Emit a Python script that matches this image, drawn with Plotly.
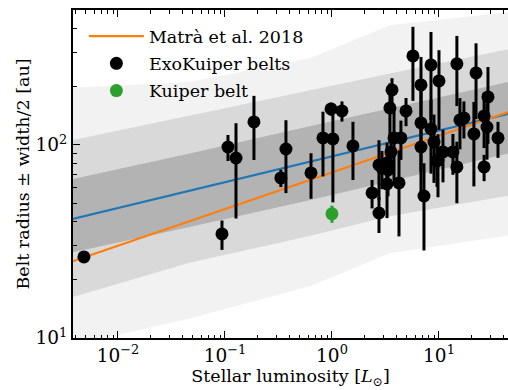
import plotly.graph_objects as go

# ---------------- data ----------------
exo_L = [0.00481, 0.0938, 0.1067, 0.1268, 0.1866, 0.333, 0.3715, 0.637, 0.824, 0.98,
         1.02, 1.24, 1.571, 2.37, 2.75, 2.75, 3.27, 3.34, 2.93, 3.27,
         4.23, 3.64, 3.48, 4.92, 3.80, 4.41, 3.56, 5.71, 8.42, 10.0,
         6.79, 6.79, 8.42, 6.79, 8.98, 9.58, 7.24, 14.7, 22.2, 28.7,
         15.7, 17.1, 26.4, 28.1, 21.2, 35.6, 26.4, 14.7, 13.5, 10.9,
         9.79]
exo_R = [26.3, 34.6, 97.6, 85.6, 131.6, 67.5, 95.3, 71.6, 108.7, 153.7,
         107.4, 150.1, 98.8, 56.4, 44.4, 78.8, 80.7, 74.2, 76.0, 62.8,
         63.6, 192.7, 155.5, 150.1, 108.7, 108.7, 92.0, 289.1, 259.8, 214.6,
         204.6, 130.0, 121.0, 97.6, 103.6, 82.6, 54.4, 263.0, 236.0, 177.3,
         134.8, 138.0, 141.3, 123.9, 114.0, 108.7, 76.9, 76.9, 92.0, 92.0,
         83.6]
exo_err = [1, 6, 15, 44, 48, 7, 39, 19, 40, 12,
           57, 18, 33, 9.5, 9.4, 27, 22, 20, 17, 21,
           30, 29, 53, 25, 43, 25, 20, 120, 125, 95,
           81, 74, 50, 25, 40, 22, 26, 104, 100, 76,
           40, 30, 45, 40, 53, 23, 12, 27, 22, 28,
           30]

kb_L = [1.0]
kb_R = [44.0]
kb_err = [4.5]

# fitted lines (end points)
line_L = [0.0035, 48.0]
matra_R = [24.6, 150.2]
fit_R = [40.9, 146.6]

# shaded percentile bands (edges at a few luminosities)
band_L = [0.0035, 0.0468, 0.631, 3.47, 48.0]
light_top = [197.2, 211.8, 281.8, 416.9, 489.8]
light_bot = [9.12, 12.6, 18.6, 27.5, 34.2]
mid_top = [105.0, 141.3, 191.9, 234.4, 316.2]
mid_bot = [16.1, 24.5, 33.9, 42.7, 55.0]
dark_top = [65.9, 90.4, 125.3, 155.2, 213.8]
dark_bot = [27.5, 37.6, 51.9, 64.6, 91.2]

x_major = [0.01, 0.1, 1, 10]
x_major_text = ["10<sup>−2</sup>", "10<sup>−1</sup>", "10<sup>0</sup>", "10<sup>1</sup>"]
y_major = [10, 100]
y_major_text = ["10<sup>1</sup>", "10<sup>2</sup>"]

FONT = "DejaVu Serif"
FS = 17.5
TFS = 18.5

fig = go.Figure()


def band(top, bot, color):
    fig.add_trace(go.Scatter(
        x=band_L + band_L[::-1], y=top + bot[::-1], fill="toself",
        fillcolor=color, line=dict(width=0), mode="lines",
        hoverinfo="skip", showlegend=False))


band(light_top, light_bot, "#f2f2f2")
band(mid_top, mid_bot, "#d9d9d9")
band(dark_top, dark_bot, "#b3b3b3")

fig.add_trace(go.Scatter(x=line_L, y=fit_R, mode="lines",
                         line=dict(color="#1f77b4", width=2.2), showlegend=False))
fig.add_trace(go.Scatter(x=line_L, y=matra_R, mode="lines", name="Matrà et al. 2018",
                         legendgroup="a", line=dict(color="#ff7f0e", width=2.2)))
fig.add_trace(go.Scatter(x=exo_L, y=exo_R, mode="markers", name="ExoKuiper belts",
                         legendgroup="b", marker=dict(color="black", size=13),
                         error_y=dict(type="data", array=exo_err, color="black",
                                      thickness=3, width=0)))
fig.add_trace(go.Scatter(x=kb_L, y=kb_R, mode="markers", name="Kuiper belt",
                         legendgroup="c", marker=dict(color="#2ca02c", size=13),
                         error_y=dict(type="data", array=kb_err, color="#2ca02c",
                                      thickness=3, width=0)))


def minor_vals(d0, d1):
    out = []
    for e in range(d0, d1):
        for m in range(2, 10):
            out.append(m * 10 ** e)
    return out


fig.update_xaxes(type="log", range=[-2.42, 1.645], showgrid=False, zeroline=False,
                 showline=True, linecolor="black", linewidth=2, mirror="allticks",
                 ticks="inside", ticklen=7, tickwidth=1.2, tickcolor="black",
                 tickmode="array", tickvals=x_major, ticktext=x_major_text,
                 minor=dict(tickmode="array", tickvals=minor_vals(-3, 2), ticks="inside",
                            ticklen=3.5, tickwidth=1, tickcolor="black", showgrid=False),
                 tickfont=dict(family=FONT, size=TFS, color="black"),
                 title=dict(text="Stellar luminosity [<i>L</i><sub>⊙</sub>]",
                            font=dict(family=FONT, size=FS, color="black"), standoff=1))
fig.update_yaxes(type="log", range=[1, 2.699], showgrid=False, zeroline=False,
                 showline=True, linecolor="black", linewidth=2, mirror=False,
                 ticks="inside", ticklen=7, tickwidth=1.2, tickcolor="black",
                 tickmode="array", tickvals=y_major, ticktext=y_major_text,
                 minor=dict(tickmode="array", tickvals=minor_vals(1, 3), ticks="inside",
                            ticklen=3.5, tickwidth=1, tickcolor="black", showgrid=False),
                 tickfont=dict(family=FONT, size=TFS, color="black"),
                 title=dict(text="Belt radius ± width/2 [au]",
                            font=dict(family=FONT, size=FS, color="black"), standoff=1))

fig.update_layout(
    width=508, height=390, margin=dict(l=73, r=0, t=10, b=52),
    plot_bgcolor="white", paper_bgcolor="white",
    font=dict(family=FONT, size=FS, color="black"),
    legend=dict(x=0.025, y=0.975, xanchor="left", yanchor="top",
                bgcolor="rgba(0,0,0,0)", borderwidth=0,
                font=dict(family=FONT, size=FS, color="black"),
                itemwidth=55, tracegroupgap=1.5),
)

fig.write_html("out.html")
